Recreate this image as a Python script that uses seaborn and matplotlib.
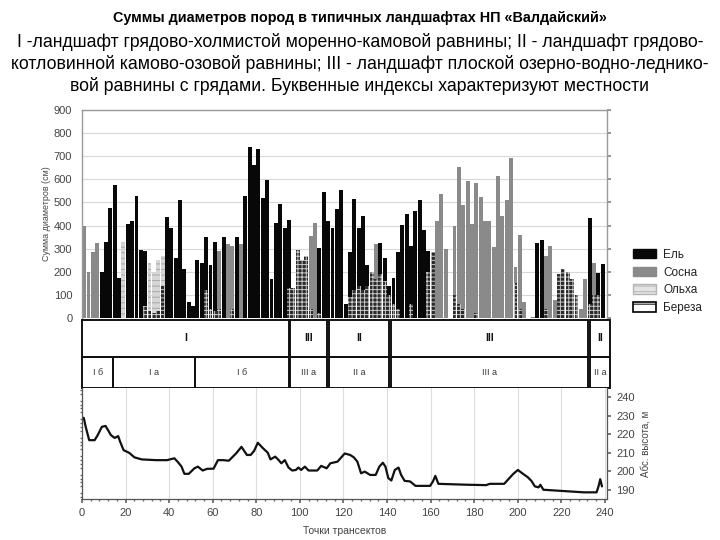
import numpy as np
import pandas as pd
import matplotlib
matplotlib.use("Agg")
import matplotlib.pyplot as plt
from matplotlib.patches import Patch, Rectangle
import seaborn as sns

sns.set_theme(style="white")
plt.rcParams['font.family'] = ['Liberation Sans', 'DejaVu Sans']
plt.rcParams['hatch.linewidth'] = 0.7

title_lines = [
    "Суммы диаметров пород в типичных ландшафтах НП «Валдайский»",
    "I -ландшафт грядово-холмистой моренно-камовой равнины; II - ландшафт грядово-",
    "котловинной камово-озовой равнины; III - ландшафт плоской озерно-водно-леднико-",
    "вой равнины с грядами. Буквенные индексы характеризуют местности",
]

# суммы диаметров (см), по 2 точки трансекта на столбец, слои снизу вверх:
# береза, ольха, сосна, ель
el = [
    0, 0, 0, 0, 200, 330, 475, 575, 175, 0,
    405, 420, 530, 295, 240, 0, 0, 0, 0, 435,
    390, 260, 510, 210, 70, 50, 250, 240, 230, 190,
    300, 0, 350, 0, 0, 350, 0, 530, 740, 660,
    730, 520, 595, 170, 410, 495, 390, 295, 0, 0,
    0, 0, 0, 0, 285, 545, 420, 390, 470, 553,
    60, 195, 395, 250, 320, 90, 0, 0, 135, 100,
    40, 115, 247, 403, 448, 253, 463, 512, 381, 91,
    0, 0, 0, 0, 0, 0, 0, 0, 0, 0,
    0, 0, 0, 0, 0, 0, 0, 0, 0, 0,
    0, 0, 0, 0, 325, 339, 0, 0, 0, 0,
    0, 0, 0, 0, 0, 0, 372, 0, 96, 233,
]
sosna = [
    400, 200, 285, 325, 0, 0, 0, 0, 0, 0,
    0, 0, 0, 0, 0, 0, 0, 0, 0, 0,
    0, 0, 0, 0, 0, 0, 0, 0, 0, 0,
    0, 250, 0, 320, 270, 0, 320, 0, 0, 0,
    0, 0, 0, 0, 0, 0, 0, 0, 0, 0,
    0, 0, 315, 410, 0, 0, 0, 0, 0, 0,
    0, 0, 0, 0, 0, 0, 0, 150, 0, 0,
    0, 0, 0, 0, 0, 0, 0, 0, 0, 0,
    0, 418, 535, 300, 0, 300, 595, 450, 592, 408,
    562, 524, 420, 420, 306, 614, 441, 512, 691, 70,
    317, 70, 0, 5, 0, 0, 230, 313, 80, 0,
    0, 0, 0, 0, 40, 167, 0, 140, 0, 0,
]
olha = [
    0, 0, 0, 0, 0, 0, 0, 0, 0, 330,
    0, 0, 0, 0, 0, 210, 180, 220, 130, 0,
] + [0] * 100
bereza = [
    0, 0, 0, 0, 0, 0, 0, 0, 0, 0,
    0, 0, 0, 0, 50, 30, 20, 30, 140, 0,
    0, 0, 0, 0, 0, 0, 0, 0, 120, 40,
    30, 40, 0, 0, 40, 0, 0, 0, 0, 0,
    0, 0, 0, 0, 0, 0, 0, 130, 130, 295,
    250, 270, 40, 0, 20, 0, 0, 0, 0, 0,
    0, 90, 120, 140, 120, 140, 200, 170, 190, 160,
    100, 60, 40, 0, 0, 60, 0, 0, 0, 200,
    285, 0, 0, 0, 0, 100, 60, 40, 0, 0,
    20, 0, 0, 0, 0, 0, 0, 0, 0, 150,
    40, 0, 0, 0, 0, 0, 40, 0, 0, 190,
    211, 200, 170, 100, 0, 0, 60, 100, 100, 0,
]

# профиль абсолютной высоты
profile_x = [0.8, 1.7, 3.3, 5.8, 7.2, 9.1, 10.8, 13.3, 15, 16.6, 17.5, 19.1, 21.6, 24.1,
             27.4, 34, 39, 42.4, 44, 45.7, 47, 49, 51.6, 53.2, 55.4, 57.4, 60.4, 62.4,
             64.9, 67.4, 70.7, 73.2, 75.7, 77.4, 79, 80.7, 83.2, 85.3, 86.5, 88.7, 90.3,
             91.5, 93.1, 94.8, 96.5, 98.2, 99.3, 100.6, 102.3, 104, 108, 109.8, 112.3,
             114, 117.3, 120.6, 123.1, 124.8, 126.4, 128.1, 129.8, 132.3, 134.8, 136.5,
             138.1, 139.3, 140.6, 142, 143.6, 145.3, 146.5, 148.1, 150.6, 153.1, 159.8,
             161.1, 162.2, 163.6, 168.9, 177.2, 185.5, 187.2, 193.8, 195.5, 198, 200.1,
             202.1, 204.6, 206.3, 207.9, 209.6, 210.4, 211.8, 217.1, 223.7, 230.4,
             236.2, 237.1, 237.9, 238.7]
profile_y = [228.9, 224, 216.8, 216.8, 219.5, 224, 224.5, 219.5, 218, 219, 216, 211.4,
             210, 207.5, 206.4, 206, 206, 207, 205, 202.5, 198.6, 198.6, 201.6, 202.5,
             200.4, 201.3, 201.4, 206, 206, 205.7, 209.6, 213.2, 208.8, 208.8, 211,
             215.4, 212.3, 210, 206.4, 207.9, 206, 204.3, 206, 202, 200.4, 200.7, 202,
             200.7, 202.5, 200.4, 200.4, 202.9, 201.6, 204.3, 205.2, 209.6, 208.8, 207.5,
             205.2, 198.9, 199.8, 198, 198, 202.5, 204.6, 202.5, 196.3, 195, 200.7, 202,
             198, 194.8, 194.5, 192.1, 192.1, 194.5, 197.5, 193.2, 193, 192.7, 192.5,
             193.2, 193.2, 195.4, 198.6, 200.7, 198.9, 196.8, 194.8, 191.8, 191.3, 192.7,
             190, 189.6, 189.1, 188.6, 188.6, 191.8, 195.7, 191.8]

# ландшафты и местности (границы в точках трансекта)
zone_names = ['I', 'III', 'II', 'III', 'II']
zone_start = [0.2, 95.7, 113.3, 141.9, 233.3]
zone_end = [94.8, 112.4, 140.8, 232.4, 242.2]
area_names = ['I б', 'I а', 'I б', 'III а', 'II а', 'III а', 'II а']
area_start = [0.2, 14.2, 51.8, 95.7, 113.3, 141.9, 233.3]
area_end = [14.2, 51.8, 94.8, 112.4, 140.8, 232.4, 242.2]

df = pd.DataFrame({'el': el, 'sosna': sosna, 'olha': olha, 'bereza': bereza})
df['x'] = np.arange(len(df)) * 2 + 1
prof = pd.DataFrame({'x': profile_x, 'h': profile_y})

W, H = 720, 540
fig = plt.figure(figsize=(7.2, 5.4), dpi=100)

def box(l, t, r, b):
    return [l / W, 1 - b / H, (r - l) / W, (b - t) / H]

for i, (txt, y) in enumerate(zip(title_lines, [18, 42, 64, 86])):
    fig.text(0.5, 1 - y / H, txt, ha='center', va='center',
             fontsize=10.4 if i == 0 else 12.7,
             fontweight='bold' if i == 0 else 'normal', color='black')

XMAX = 241
gc = '#444444'

# --- столбцы ---
ax = fig.add_axes(box(82, 110, 607, 318))
styles = [
    ('bereza', 'Береза', dict(color='#2a2a2a', edgecolor='#c8c8c8', hatch='++++')),
    ('olha', 'Ольха', dict(color='#d6d6d6', edgecolor='#a8a8a8', hatch='---')),
    ('sosna', 'Сосна', dict(color='#8a8a8a', edgecolor='#8a8a8a')),
    ('el', 'Ель', dict(color='#080808', edgecolor='#080808')),
]
bottom = np.zeros(len(df))
for col, name, st in styles:
    ax.bar(df['x'], df[col], width=1.8, bottom=bottom, linewidth=0, **st)
    bottom += df[col].values
ax.set_xlim(0, XMAX)
ax.set_ylim(0, 900)
ax.set_yticks(range(0, 901, 100))
ax.set_xticks([])
ax.yaxis.grid(True, color='#d8d8d8', linewidth=0.8)
ax.set_axisbelow(True)
ax.tick_params(axis='y', labelsize=8, labelcolor=gc, left=False, right=True,
               direction='out', length=3, color='#888888', pad=4)
for s in ['top', 'right', 'left']:
    ax.spines[s].set_color('#9a9a9a')
    ax.spines[s].set_linewidth(1)
ax.spines['bottom'].set_visible(False)
ax.set_ylabel('Сумма диаметров (см)', fontsize=6.4, color=gc, labelpad=2)

handles = [Patch(facecolor='#080808', edgecolor='#080808', label='Ель'),
           Patch(facecolor='#8a8a8a', edgecolor='#8a8a8a', label='Сосна'),
           Patch(facecolor='#e4e4e4', edgecolor='#b5b5b5', hatch='---', label='Ольха'),
           Patch(facecolor='white', edgecolor='black', hatch='--', linewidth=1.2, label='Береза')]
fig.legend(handles=handles, loc='upper left', bbox_to_anchor=(622 / W, 1 - 238 / H),
           frameon=False, fontsize=8.5, handlelength=2.0, handleheight=0.9,
           labelspacing=0.5, handletextpad=0.6, labelcolor='#222222')

# --- таблица ландшафтов ---
axt = fig.add_axes(box(82, 320, 607, 388))
axt.set_xlim(0, XMAX)
axt.set_ylim(0, 1)
axt.axis('off')
split = 0.46
for n, a, b in zip(zone_names, zone_start, zone_end):
    axt.add_patch(Rectangle((a, split), b - a, 1 - split, fill=False, edgecolor='#111111',
                            linewidth=1.4, clip_on=False))
    axt.text((a + b) / 2, split + (1 - split) / 2, n, ha='center', va='center',
             fontsize=7.5, fontweight='bold', color='#111111')
for n, a, b in zip(area_names, area_start, area_end):
    axt.add_patch(Rectangle((a, 0), b - a, split, fill=False, edgecolor='#111111',
                            linewidth=1.4, clip_on=False))
    axt.text((a + b) / 2, split / 2, n, ha='center', va='center', fontsize=6.5,
             color='#333333')

# --- профиль высоты ---
axp = fig.add_axes(box(82, 388, 607, 499))
sns.lineplot(data=prof, x='x', y='h', ax=axp, color='#111111', linewidth=1.6)
axp.set_xlim(0, XMAX)
axp.set_ylim(185, 245)
axp.set_xticks(range(0, 241, 20))
axp.set_yticks(range(190, 241, 10))
axp.set_xticks(range(0, 241, 4), minor=True)
axp.set_yticks(range(186, 245, 2), minor=True)
axp.xaxis.grid(True, color='#dddddd', linewidth=0.8)
axp.yaxis.tick_right()
axp.yaxis.set_label_position('right')
axp.tick_params(axis='both', which='major', labelsize=8, labelcolor=gc, length=3,
                color='#666666', bottom=True, right=True, left=False)
axp.tick_params(axis='both', which='minor', length=1.5, color='#666666', bottom=True,
                left=True, right=False)
for s in axp.spines.values():
    s.set_color('#555555')
    s.set_linewidth(0.9)
axp.spines['top'].set_visible(False)
axp.set_xlabel('Точки трансектов', fontsize=7.5, color=gc, labelpad=6)
axp.set_ylabel('Абс. высота, м', fontsize=7, color=gc, labelpad=4)

fig.savefig('out.png', dpi=100)
